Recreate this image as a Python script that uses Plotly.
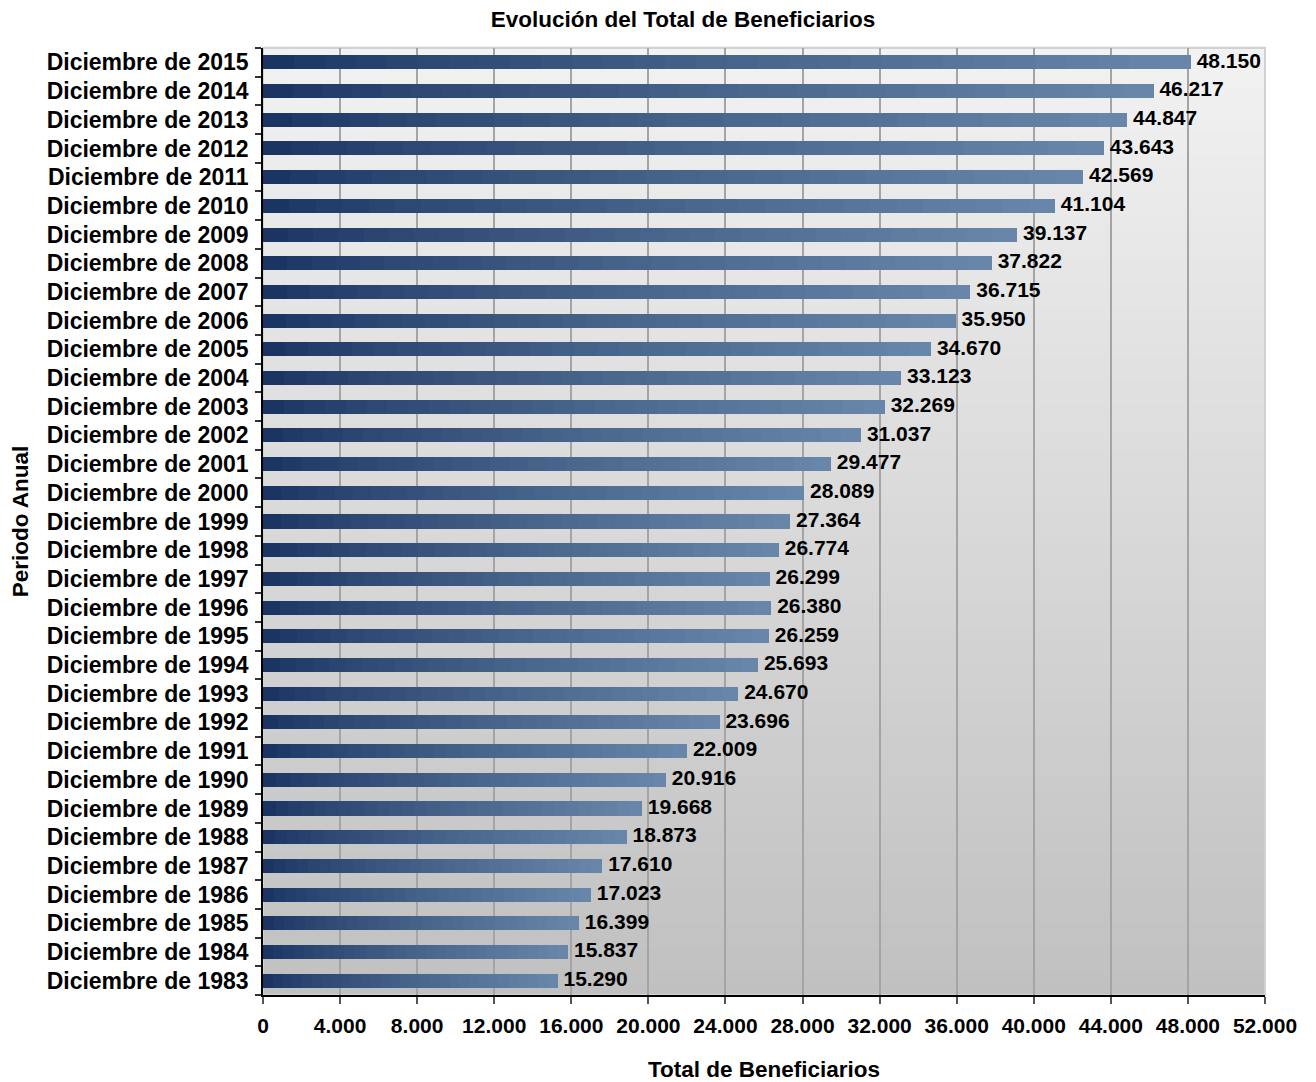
import plotly.graph_objects as go

years = list(range(1983, 2016))
categories = [f"Diciembre de {y}" for y in years]
beneficiarios = [15290, 15837, 16399, 17023, 17610, 18873, 19668, 20916, 22009, 23696,
                 24670, 25693, 26259, 26380, 26299, 26774, 27364, 28089, 29477, 31037,
                 32269, 33123, 34670, 35950, 36715, 37822, 39137, 41104, 42569, 43643,
                 44847, 46217, 48150]
x_ticks = list(range(0, 52001, 4000))

title_text = "Evolución del Total de Beneficiarios"
x_title = "Total de Beneficiarios"
y_title = "Periodo Anual"

FONT = "Liberation Sans, Arial, Helvetica, sans-serif"
OFF = 8  # page body margin offset


def lerp(c1, c2, t):
    return "rgb(%d,%d,%d)" % tuple(round(a + (b - a) * t) for a, b in zip(c1, c2))


fig = go.Figure()

# bars drawn as stacked segments to imitate a horizontal colour gradient
N_SEG = 30
dark = (24, 50, 96)
light = (104, 135, 170)
for i in range(N_SEG):
    t = (i + 0.5) / N_SEG
    fig.add_trace(go.Bar(
        y=categories,
        x=[v / N_SEG for v in beneficiarios],
        orientation="h",
        marker=dict(color=lerp(dark, light, t ** 0.8), line=dict(width=0)),
        hoverinfo="skip",
        showlegend=False,
    ))

labels = [f"{v:,}".replace(",", ".") for v in beneficiarios]
fig.add_trace(go.Scatter(
    y=categories, x=beneficiarios, mode="text", text=labels,
    texttemplate=" %{text}",
    textposition="middle right",
    textfont=dict(family=FONT, size=21, color="black", weight="bold"),
    showlegend=False, hoverinfo="skip", cliponaxis=False,
))

# plot-area background gradient
shapes = []
N_BG = 80
top = (242, 242, 242)
bot = (192, 192, 192)
for i in range(N_BG):
    y0 = i / N_BG
    y1 = (i + 1) / N_BG
    t = 1 - (y0 + y1) / 2
    shapes.append(dict(type="rect", xref="x domain", yref="y domain",
                       x0=0, x1=1, y0=y0, y1=y1 + 0.002,
                       fillcolor=lerp(top, bot, t), line=dict(width=0), layer="below"))
shapes.append(dict(type="rect", xref="x domain", yref="y domain", x0=0, x1=1, y0=0, y1=1,
                   line=dict(color="#d2d2d2", width=2), fillcolor="rgba(0,0,0,0)", layer="below"))

fig.update_layout(
    width=1316, height=1082,
    margin=dict(l=263 - OFF, r=51 + OFF, t=48 - OFF, b=87 + OFF, autoexpand=False),
    paper_bgcolor="white",
    plot_bgcolor="rgba(0,0,0,0)",
    barmode="stack",
    bargap=0.51,
    separators=",.",
    shapes=shapes,
    font=dict(family=FONT, color="black"),
    title=dict(text=title_text, x=(683 - OFF) / 1316, xanchor="center",
               xref="container", y=1 - (19 - OFF) / 1082, yanchor="middle", yref="container",
               font=dict(family=FONT, size=22.5, color="black", weight="bold")),
    xaxis=dict(
        range=[0, 52000], tickvals=x_ticks, tickformat=",d",
        showgrid=True, gridcolor="#a4a4a4", gridwidth=1.5,
        zeroline=False,
        showline=True, linecolor="black", linewidth=1.5,
        ticks="outside", ticklen=7, tickwidth=1.5, tickcolor="#555555",
        tickfont=dict(family=FONT, size=21, color="black", weight="bold"),
        ticklabelstandoff=4,
        title=dict(text=x_title, font=dict(family=FONT, size=22.5, color="black", weight="bold"),
                   standoff=25),
        automargin=False,
    ),
    yaxis=dict(
        type="category", categoryorder="array", categoryarray=categories,
        range=[-0.5, len(categories) - 0.5],
        showgrid=False, zeroline=False,
        showline=True, linecolor="black", linewidth=1.5,
        ticks="outside", ticklen=6, tickwidth=1.5, tickcolor="#333333",
        tickson="boundaries",
        tickfont=dict(family=FONT, size=23, color="black", weight="bold"),
        ticklabelstandoff=8,
        title=dict(text=y_title, font=dict(family=FONT, size=22.5, color="black", weight="bold"),
                   standoff=12),
        automargin=False,
    ),
)

fig.write_html("out.html")
